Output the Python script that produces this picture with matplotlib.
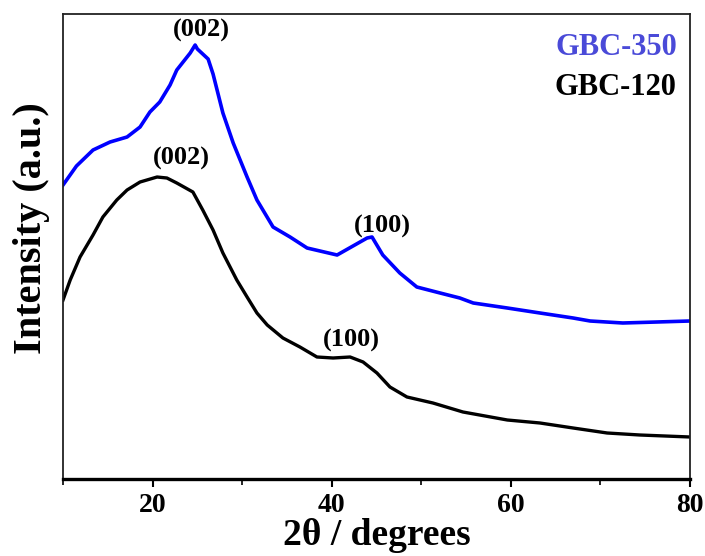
import matplotlib
matplotlib.use("Agg")
import matplotlib.pyplot as plt
from matplotlib.ticker import MultipleLocator, NullLocator

plt.rcParams['font.family'] = ['Liberation Serif', 'DejaVu Serif']
plt.rcParams['font.weight'] = 'bold'

# GBC-350 (blue)
x350 = [10.0, 11.5, 13.35, 15.25, 17.15, 18.6, 19.7, 20.8, 21.95, 22.7, 24.2, 24.75,
        25.0, 25.6, 26.2, 26.75, 27.85, 29.0, 30.55, 31.65, 33.45, 35.35, 37.25, 40.6,
        43.95, 44.5, 45.7, 47.6, 49.5, 52.1, 54.3, 55.8, 59.6, 63.25, 66.95, 68.85,
        72.5, 76.3, 80.0]
y350 = [294, 313, 329, 337, 342, 352, 367, 377, 394, 409, 426, 434,
        430, 425, 420, 405, 366, 336, 302, 279, 252, 242, 231, 224,
        241, 242, 224, 206, 192, 186, 181, 176, 171, 166, 161, 158,
        156, 157, 158]

# GBC-120 (black)
x120 = [10.0, 10.8, 11.9, 13.35, 14.45, 16.0, 17.15, 18.6, 20.5, 21.6, 22.7, 24.5,
        25.6, 26.75, 27.85, 29.4, 30.55, 31.65, 32.8, 34.55, 36.45, 38.35, 40.15,
        42.05, 43.5, 45.05, 46.5, 48.4, 51.3, 54.65, 59.6, 63.25, 66.95, 70.75,
        74.4, 80.0]
y120 = [179, 199, 222, 244, 262, 279, 289, 297, 302, 301, 296, 287,
        269, 249, 226, 199, 182, 166, 154, 141, 132, 122, 121,
        122, 117, 106, 92, 82, 76, 67, 59, 56, 51, 46,
        44, 42]

labels = ['GBC-350', 'GBC-120']
peak_labels = ['(002)', '(002)', '(100)', '(100)']
peak_x = [25.4, 23.2, 45.7, 42.15]
peak_y = [449, 321, 253, 139]

fig = plt.figure(figsize=(7.05, 5.56), dpi=100)
ax = fig.add_axes([0.0894, 0.1385, 0.8893, 0.8363])

ax.plot(x350, y350, color='#0000ff', lw=2.6)
ax.plot(x120, y120, color='#000000', lw=2.4)

ax.set_xlim(10, 80)
ax.set_ylim(0, 465)
ax.xaxis.set_major_locator(MultipleLocator(20))
ax.xaxis.set_minor_locator(MultipleLocator(10))
ax.yaxis.set_major_locator(NullLocator())
ax.tick_params(axis='x', which='major', direction='out', length=6, width=1.5, labelsize=20, pad=4)
ax.tick_params(axis='x', which='minor', direction='out', length=4, width=1.2)
for lbl in ax.get_xticklabels():
    lbl.set_fontweight('bold')

for s in ['left', 'right', 'top']:
    ax.spines[s].set_linewidth(1.3)
    ax.spines[s].set_color('#222222')
ax.spines['bottom'].set_linewidth(2.4)

ax.set_xlabel('2θ / degrees', fontsize=27, fontweight='bold')
ax.xaxis.set_label_coords(0.50, -0.083)
ax.set_ylabel('Intensity (a.u.)', fontsize=29, fontweight='bold')
ax.yaxis.set_label_coords(-0.020, 0.54)

for t, xx, yy in zip(peak_labels, peak_x, peak_y):
    ax.text(xx, yy, t, fontsize=19, fontweight='bold', ha='center', va='center')

ax.text(0.979, 0.927, labels[0], transform=ax.transAxes, color='#4a4ad8',
        fontsize=22, fontweight='bold', ha='right', va='center')
ax.text(0.979, 0.841, labels[1], transform=ax.transAxes, color='#000000',
        fontsize=22, fontweight='bold', ha='right', va='center')

fig.savefig('out.png', dpi=100)
